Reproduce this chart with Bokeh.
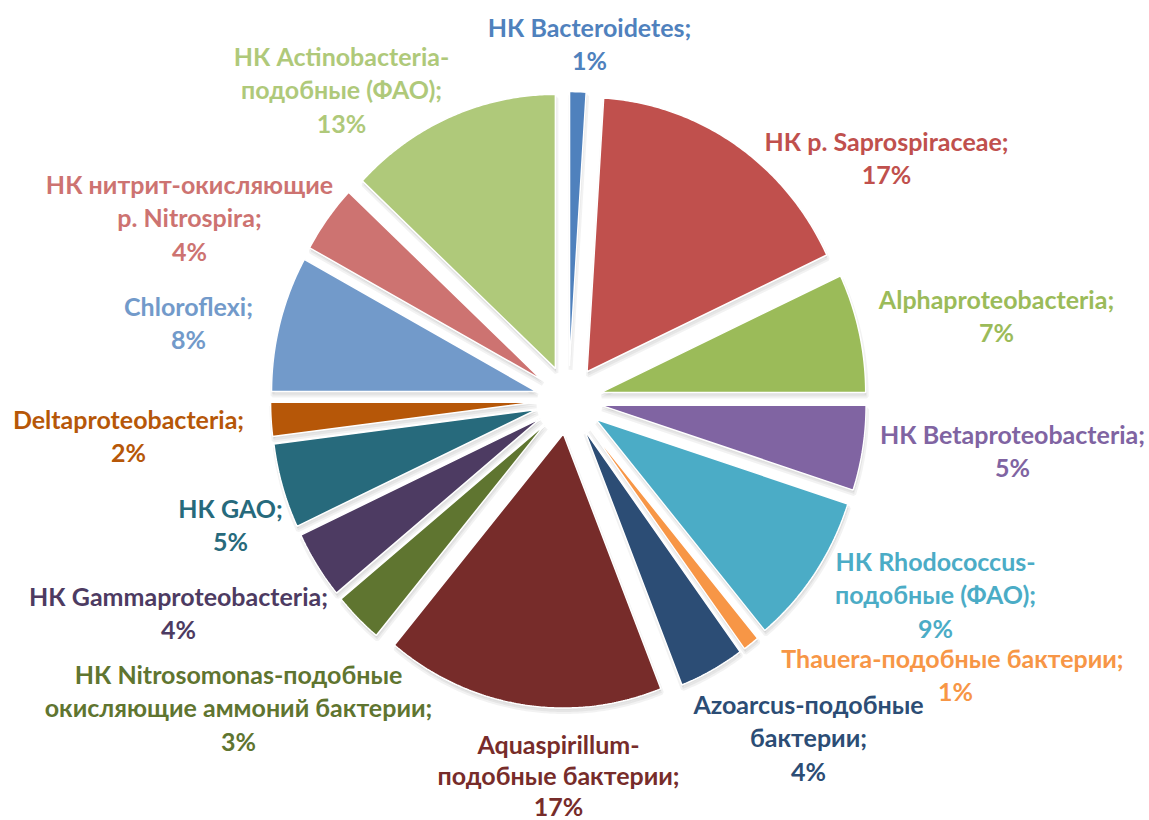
import numpy as np
from bokeh.plotting import figure
from bokeh.models import Range1d, ColumnDataSource
from bokeh.core.properties import value
from bokeh.embed import file_html
from bokeh.resources import INLINE

# ---- data ----
names = [
    "НК Bacteroidetes;",
    "НК р. Saprospiraceae;",
    "Alphaproteobacteria;",
    "НК Betaproteobacteria;",
    "НК Rhodococcus-\nподобные (ФАО);",
    "Thauera-подобные  бактерии;",
    "Azoarcus-подобные\nбактерии;",
    "Aquaspirillum-\nподобные бактерии;",
    "НК Nitrosomonas-подобные\nокисляющие аммоний бактерии;",
    "НК Gammaproteobacteria;",
    "НК GAO;",
    "Deltaproteobacteria;",
    "Chloroflexi;",
    "НК нитрит-окисляющие\nр. Nitrospira;",
    "НК Actinobacteria-\nподобные (ФАО);",
]
percent = [1, 17, 7, 5, 9, 1, 4, 17, 3, 4, 5, 2, 8, 4, 13]
colors = ["#4F81BD", "#C0504D", "#9BBB59", "#8064A2", "#4BACC6", "#F79646",
          "#2C4D75", "#772C2A", "#5F7530", "#4D3B62", "#276A7C", "#B65708",
          "#729ACA", "#CD7371", "#AFC97A"]

# ---- layout (picture pixels) ----
CX, CY = 568, 399.5
R = 265
SY = 1.035          # vertical stretch of the pie
EXPLODE = 33
label_pos = [(589, 43), (886, 157), (996, 315), (1012, 450), (935, 593.5),
             (955, 674), (808, 736.5), (558, 774), (238, 706.5), (178, 612),
             (230, 524), (128, 435), (188, 322), (189, 216.5), (341, 88.5)]
line_sp = [33.5] * 15
line_sp[7] = 31
FONT = "Lato"
FSIZE = 25

W, H = 1149, 820
p = figure(width=W, height=H, output_backend="svg", toolbar_location=None,
           x_range=Range1d(0, W), y_range=Range1d(-H, 0),
           min_border=0)
p.axis.visible = False
p.grid.visible = False
p.outline_line_color = None

vals = np.array(percent, dtype=float)
frac = vals / vals.sum()
cum_end = np.cumsum(frac) * 2 * np.pi
cum_start = cum_end - frac * 2 * np.pi

xs_all, ys_all = [], []
for s, e in zip(cum_start, cum_end):
    m = (s + e) / 2
    ax = CX + EXPLODE * np.sin(m)
    ay = CY - SY * EXPLODE * np.cos(m)
    t = np.linspace(s, e, max(3, int((e - s) * 120)))
    px = np.concatenate([[ax], ax + R * np.sin(t)])
    py = np.concatenate([[ay], ay - SY * R * np.cos(t)])
    xs_all.append(px)
    ys_all.append(-py)

# soft shadows
p.patches(xs=[x + 1 for x in xs_all], ys=[y - 4 for y in ys_all],
          fill_color="#000000", fill_alpha=0.05, line_color="#000000",
          line_alpha=0.05, line_width=4)
p.patches(xs=[x + 0.5 for x in xs_all], ys=[y - 2 for y in ys_all],
          fill_color="#000000", fill_alpha=0.08, line_color=None)
src = ColumnDataSource(dict(xs=xs_all, ys=ys_all, c=colors))
p.patches(xs="xs", ys="ys", fill_color="c", line_color="white", line_width=1.5,
          source=src)

tx, ty, tt, tc = [], [], [], []
for i, name in enumerate(names):
    lines = name.split("\n") + [f"{percent[i]}%"]
    n = len(lines)
    lx, ly = label_pos[i]
    for k, ln in enumerate(lines):
        tx.append(lx)
        ty.append(-(ly + (k - (n - 1) / 2) * line_sp[i]))
        tt.append(ln)
        tc.append(colors[i])
p.text(x=tx, y=ty, text=tt, text_color=tc, text_font=value(FONT),
       text_font_style="bold", text_font_size=f"{FSIZE}px", text_align="center",
       text_baseline="middle")

open("out.html", "w").write(file_html(p, INLINE))
